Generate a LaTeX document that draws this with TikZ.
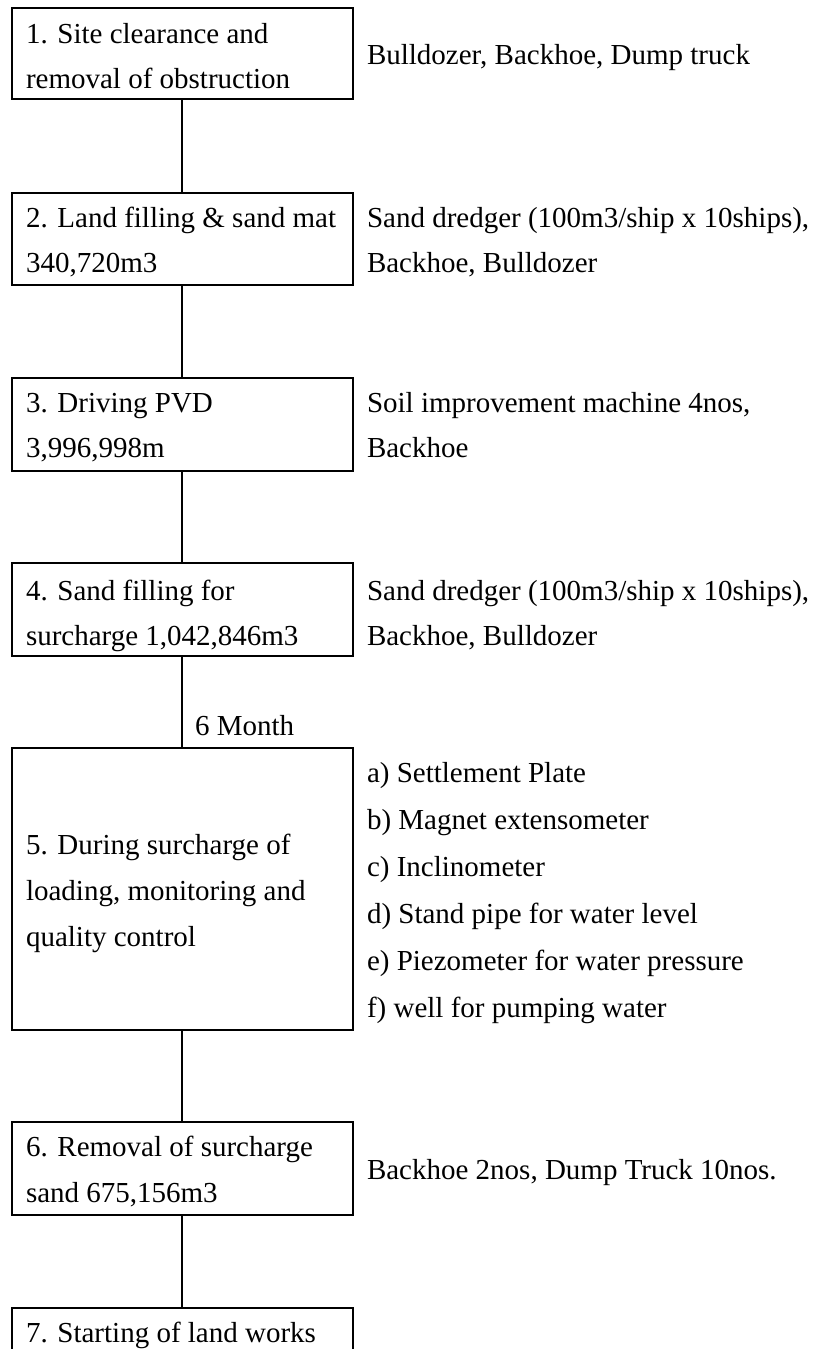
\documentclass[tikz,border=0pt]{standalone}
\usepackage{fontspec}
\setmainfont{Liberation Serif}
\begin{document}
\begin{tikzpicture}[x=0.5pt,y=-0.5pt,
  stage/.style={draw, line width=1pt, minimum width=170.35pt, anchor=north west,
                inner sep=0pt, outer sep=0pt},
  txt/.style={anchor=base west, inner sep=0pt, outer sep=0pt,
              font=\fontsize{14.5pt}{22.5pt}\selectfont},
  link/.style={line width=1pt}]
\useasboundingbox (0,0) rectangle (816,1349);
\clip (0,0) rectangle (816,1349);

% process stages
\node[stage, minimum height=45.5pt] (s1) at (12,8) {};
\node[stage, minimum height=46pt]   (s2) at (12,193) {};
\node[stage, minimum height=46.5pt] (s3) at (12,378) {};
\node[stage, minimum height=46.5pt] (s4) at (12,563) {};
\node[stage, minimum height=141pt]  (s5) at (12,748) {};
\node[stage, minimum height=46.5pt] (s6) at (12,1122) {};
\node[stage, minimum height=46pt]   (s7) at (12,1308) {};

% links between stages
\draw[link] (s1.south) -- (s2.north);
\draw[link] (s2.south) -- (s3.north);
\draw[link] (s3.south) -- (s4.north);
\draw[link] (s4.south) -- (s5.north);
\draw[link] (s5.south) -- (s6.north);
\draw[link] (s6.south) -- (s7.north);

% stage texts
\node[txt] (t1a) at (26,43)  {1. Site clearance and};
\node[txt] (t1b) at (26,88)  {removal of obstruction};
\node[txt] (t2a) at (26,227) {2. Land filling \& sand mat};
\node[txt] (t2b) at (26,272) {340,720m3};
\node[txt] (t3a) at (26,412) {3. Driving PVD};
\node[txt] (t3b) at (26,457) {3,996,998m};
\node[txt] (t4a) at (26,600) {4. Sand filling for};
\node[txt] (t4b) at (26,645) {surcharge 1,042,846m3};
\node[txt] (t5a) at (26,854) {5. During surcharge of};
\node[txt] (t5b) at (26,900) {loading, monitoring and};
\node[txt] (t5c) at (26,946) {quality control};
\node[txt] (t6a) at (26,1156) {6. Removal of surcharge};
\node[txt] (t6b) at (26,1202) {sand 675,156m3};
\node[txt] (t7a) at (26,1342) {7. Starting of land works};

% duration note
\node[txt] (dur) at (195,735) {6 Month};

% equipment and instruments
\node[txt] (e1)  at (367,64)  {Bulldozer, Backhoe, Dump truck};
\node[txt] (e2a) at (367,227) {Sand dredger (100m3/ship x 10ships),};
\node[txt] (e2b) at (367,272) {Backhoe, Bulldozer};
\node[txt] (e3a) at (367,412) {Soil improvement machine 4nos,};
\node[txt] (e3b) at (367,457) {Backhoe};
\node[txt] (e4a) at (367,600) {Sand dredger (100m3/ship x 10ships),};
\node[txt] (e4b) at (367,645) {Backhoe, Bulldozer};
\node[txt] (m1)  at (367,782)  {a) Settlement Plate};
\node[txt] (m2)  at (367,829)  {b) Magnet extensometer};
\node[txt] (m3)  at (367,876)  {c) Inclinometer};
\node[txt] (m4)  at (367,923)  {d) Stand pipe for water level};
\node[txt] (m5)  at (367,970)  {e) Piezometer for water pressure};
\node[txt] (m6)  at (367,1017) {f) well for pumping water};
\node[txt] (e6)  at (367,1179) {Backhoe 2nos, Dump Truck 10nos.};
\end{tikzpicture}
\end{document}
